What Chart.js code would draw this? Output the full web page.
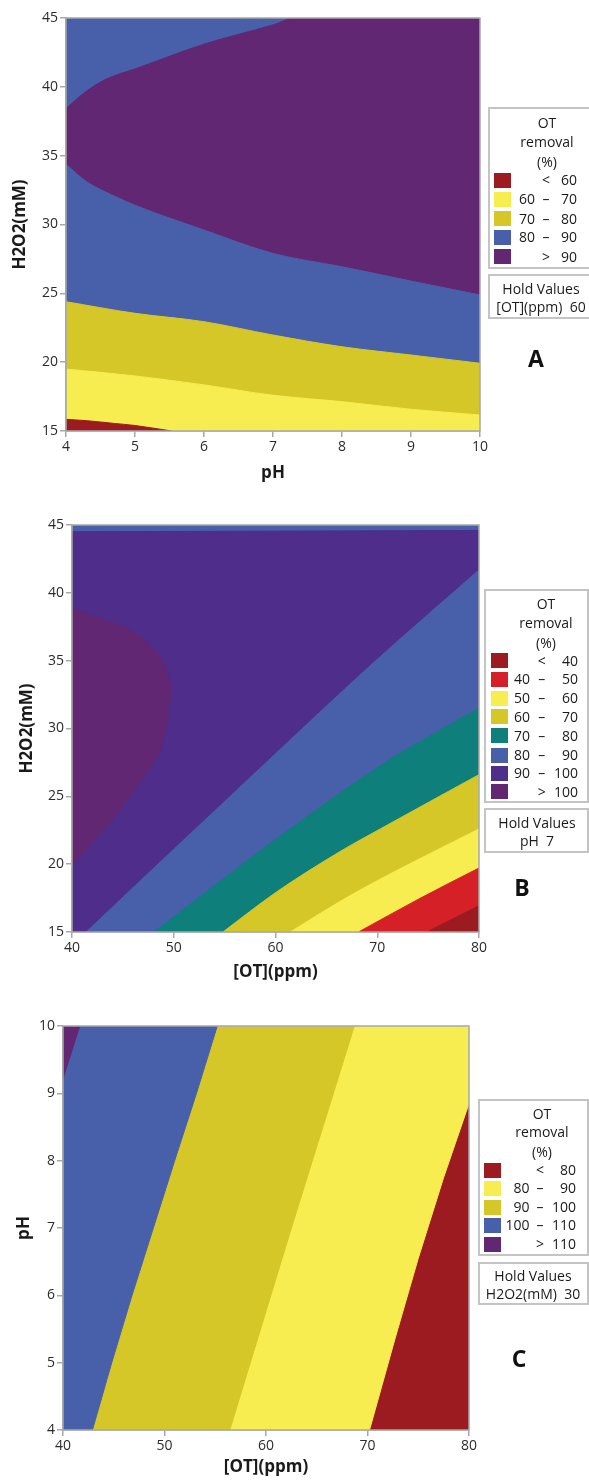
<!DOCTYPE html>
<html lang="en">
<head>
<meta charset="UTF-8">
<title>OT removal contour plots</title>
<script src="https://cdn.jsdelivr.net/npm/chart.js"></script>
<style>
  body { margin: 0; background: #fff; font-family: 'Open Sans', sans-serif; }
  #page { position: relative; width: 589px; height: 1481px; overflow: hidden; }
  #page canvas { position: absolute; left: 0; }
  .box { position: absolute; border: 2px solid #c4c4c4; box-sizing: border-box; }
  .txt { position: absolute; font-size: 14px; line-height: 18px; color: #1a1a1a; white-space: pre; }
  .c { transform: translate(-50%, -50%); }
  .sw { position: absolute; width: 17px; height: 15px; }
  .letter { position: absolute; font-size: 23px; font-weight: bold; color: #111; transform: translate(-50%, -50%); }
</style>
</head>
<body>
<div id="page">
  <canvas id="chartA" width="589" height="490" style="top:0"></canvas>
  <canvas id="chartB" width="589" height="500" style="top:490px"></canvas>
  <canvas id="chartC" width="589" height="491" style="top:990px"></canvas>
</div>
<script>
// ---- colours of the contour classes
const DARKRED = '#9b1b21';
const RED = '#d62028';
const YELLOW = '#f7ec50';
const OLIVE = '#d4c727';
const TEAL = '#0e7f7b';
const BLUE = '#4860aa';
const INDIGO = '#4e2d8b';
const PURPLE = '#612773';

// ---- plot A : pH (x) vs H2O2 mM (y), [OT] held at 60
const a_ticksX = [4, 5, 6, 7, 8, 9, 10];
const a_ticksY = [15, 20, 25, 30, 35, 40, 45];
const a_lim60 = [[4, 15.85], [4.3, 15.75], [4.7, 15.55], [5, 15.4], [5.53, 15]];
const a_lim70 = [[4, 19.5], [5, 19.0], [6, 18.35], [7, 17.6], [8, 17.13], [9, 16.58], [10, 16.16]];
const a_lim80 = [[4, 24.39], [5, 23.55], [6, 22.94], [7, 21.97], [8, 21.12], [9, 20.52], [10, 19.92]];
const a_lim90low = [[4, 34.37], [4.3, 33.1], [4.73, 32.0], [5, 31.4], [6, 29.6], [7, 27.9], [8, 26.93], [9, 25.89], [10, 24.88]];
const a_lim90up = [[4, 38.43], [4.3, 39.7], [4.6, 40.6], [5, 41.3], [6, 43.1], [7, 44.5], [7.32, 45], [10, 45]];
const a_top = [[4, 45], [10, 45]];
const a_legend = [['', '<', '60'], ['60', '–', '70'], ['70', '–', '80'], ['80', '–', '90'], ['', '>', '90']];
const a_legendColors = [DARKRED, YELLOW, OLIVE, BLUE, PURPLE];

// ---- plot B : [OT] ppm (x) vs H2O2 mM (y), pH held at 7
const b_ticksX = [40, 50, 60, 70, 80];
const b_ticksY = [15, 20, 25, 30, 35, 40, 45];
const b_lim40 = [[74.87, 15], [80, 16.93]];
const b_lim50 = [[68.16, 15], [74, 17.4], [80, 19.72]];
const b_lim60 = [[61.45, 15], [66.36, 17.26], [70.3, 18.9], [80, 22.6]];
const b_lim70 = [[54.83, 15], [60, 17.9], [66.36, 20.94], [70.3, 22.6], [80, 26.6]];
const b_lim80 = [[48.08, 15], [55, 19.0], [62.43, 23.15], [71.43, 27.8], [80, 31.5]];
const b_lim90 = [[41.4, 15], [50, 21.1], [55.55, 25], [62.43, 29.85], [70, 35.1], [80, 41.69]];
const b_lim100low = [[40, 19.84], [43.77, 23.03], [46.71, 25.98], [49.0, 28.92], [49.49, 30.4], [49.82, 32.6]];
const b_lim100up = [[40, 38.87], [42.79, 38.13], [46.72, 36.78], [49.0, 34.82], [49.49, 33.83], [49.82, 32.6]];
const b_lim90top = [[40, 44.5], [80, 44.6]];
const b_top = [[40, 45], [80, 45]];
const b_legend = [['', '<', '40'], ['40', '–', '50'], ['50', '–', '60'], ['60', '–', '70'], ['70', '–', '80'], ['80', '–', '90'], ['90', '–', '100'], ['', '>', '100']];
const b_legendColors = [DARKRED, RED, YELLOW, OLIVE, TEAL, BLUE, INDIGO, PURPLE];

// ---- plot C : [OT] ppm (x) vs pH (y), H2O2 held at 30
const c_ticksX = [40, 50, 60, 70, 80];
const c_ticksY = [4, 5, 6, 7, 8, 9, 10];
const c_lim80 = [[40, 4], [70.2, 4], [72.7, 5.35], [75, 6.55], [77.5, 7.75], [80, 8.85]];
const c_lim90 = [[40, 4], [56.43, 4], [62.5, 7], [68.7, 10]];
const c_lim100 = [[40, 4], [42.9, 4], [44.8, 5], [46.8, 6], [48.9, 7], [51.0, 8], [53.15, 9], [55.2, 10]];
const c_lim110 = [[40, 9.22], [41.65, 10]];
const c_top = [[40, 10], [80, 10]];
const c_legend = [['', '<', '80'], ['80', '–', '90'], ['90', '–', '100'], ['100', '–', '110'], ['', '>', '110']];
const c_legendColors = [DARKRED, YELLOW, OLIVE, BLUE, PURPLE];

Chart.defaults.font.family = "'Open Sans', sans-serif";
Chart.defaults.color = '#2b2b2b';

// grey frame round the plot area
const frame = {
  id: 'frame',
  afterDatasetsDraw(chart) {
    const a = chart.chartArea, ctx = chart.ctx;
    ctx.save();
    ctx.strokeStyle = '#a8a8a8';
    ctx.lineWidth = 1.5;
    ctx.strokeRect(a.left, a.top, a.right - a.left, a.bottom - a.top);
    ctx.restore();
  }
};

function axis(ticks, title, fit, isX, pad) {
  return {
    type: 'linear',
    min: ticks[0],
    max: ticks[ticks.length - 1],
    afterBuildTicks: s => { s.ticks = ticks.map(v => ({ value: v })); },
    afterFit: s => { if (isX) s.height = fit; else s.width = fit; },
    grid: { drawOnChartArea: false, tickLength: 6, color: '#a8a8a8', lineWidth: 1.5 },
    border: { color: '#a8a8a8', width: 1.5 },
    ticks: { font: { size: 14 }, padding: 2, maxRotation: 0, autoSkip: false },
    title: {
      display: true, text: title, font: { size: 17, weight: 'bold' }, color: '#1a1a1a',
      padding: isX ? { top: 0, bottom: pad } : { top: pad, bottom: 0 }
    }
  };
}

// layers are listed top first: index 0 is painted last
function contour(id, layers, xs, ys, lay, smooth) {
  return new Chart(document.getElementById(id), {
    type: 'line',
    data: {
      datasets: layers.map(l => ({
        data: l.pts.map(p => ({ x: p[0], y: p[1] })),
        backgroundColor: l.color,
        borderColor: l.color,
        borderWidth: 1,
        pointRadius: 0,
        cubicInterpolationMode: smooth ? 'monotone' : 'default',
        tension: 0,
        fill: l.fill
      }))
    },
    options: {
      responsive: false,
      animation: false,
      events: [],
      layout: { padding: { top: lay.top, right: lay.right, left: 0, bottom: 0 } },
      plugins: { legend: { display: false }, tooltip: { enabled: false } },
      scales: {
        x: axis(xs.ticks, xs.title, lay.xh, true, xs.pad),
        y: axis(ys.ticks, ys.title, lay.yw, false, ys.pad)
      }
    },
    plugins: [frame]
  });
}

contour('chartA', [
  { pts: a_lim60, color: DARKRED, fill: 'start' },
  { pts: a_lim70, color: YELLOW, fill: 'start' },
  { pts: a_lim80, color: OLIVE, fill: 'start' },
  { pts: a_lim90low, color: BLUE, fill: 'start' },
  { pts: a_lim90up, color: PURPLE, fill: 'start' },
  { pts: a_top, color: BLUE, fill: 'start' }
], { ticks: a_ticksX, title: 'pH', pad: 7 }, { ticks: a_ticksY, title: 'H2O2(mM)', pad: 10 },
  { top: 18, right: 109, xh: 59, yw: 66 }, true);

contour('chartB', [
  { pts: b_lim40, color: DARKRED, fill: 'start' },
  { pts: b_lim50, color: RED, fill: 'start' },
  { pts: b_lim60, color: YELLOW, fill: 'start' },
  { pts: b_lim70, color: OLIVE, fill: 'start' },
  { pts: b_lim80, color: TEAL, fill: 'start' },
  { pts: b_lim90, color: BLUE, fill: 'start' },
  { pts: b_lim100low, color: INDIGO, fill: 'start' },
  { pts: b_lim100up, color: PURPLE, fill: 'start' },
  { pts: b_lim90top, color: INDIGO, fill: 'start' },
  { pts: b_top, color: BLUE, fill: 'start' }
], { ticks: b_ticksX, title: '[OT](ppm)', pad: 8 }, { ticks: b_ticksY, title: 'H2O2(mM)', pad: 17 },
  { top: 35, right: 110, xh: 58, yw: 72 }, true);

contour('chartC', [
  { pts: c_lim110, color: PURPLE, fill: 'end' },
  { pts: c_lim100, color: BLUE, fill: 'end' },
  { pts: c_lim90, color: OLIVE, fill: 'end' },
  { pts: c_lim80, color: YELLOW, fill: 'end' },
  { pts: c_top, color: DARKRED, fill: 'start' }
], { ticks: c_ticksX, title: '[OT](ppm)', pad: 4 }, { ticks: c_ticksY, title: 'pH', pad: 14 },
  { top: 36, right: 120, xh: 51, yw: 63 }, false);

// ---- legend boxes, hold values and panel letters (html)
const page = document.getElementById('page');
function el(cls, css, text) {
  const d = document.createElement('div');
  d.className = cls;
  Object.assign(d.style, css);
  if (text !== undefined) d.textContent = text;
  page.appendChild(d);
  return d;
}
function legend(g, rows, colors, hold) {
  el('box', { left: g.l + 'px', top: g.t + 'px', width: g.w + 'px', height: g.h + 'px' });
  ['OT', 'removal', '(%)'].forEach((s, i) => el('txt c', { left: g.tx + 'px', top: g.ty[i] + 'px' }, s));
  rows.forEach((r, i) => {
    const y = g.rows[i];
    el('sw', { left: g.sx + 'px', top: (y - 7.5) + 'px', background: colors[i] });
    el('txt', { right: (589 - g.c1) + 'px', top: (y - 9) + 'px' }, r[0]);
    el('txt c', { left: g.c2 + 'px', top: y + 'px' }, r[1]);
    el('txt', { right: (589 - g.c3) + 'px', top: (y - 9) + 'px' }, r[2]);
  });
  el('box', { left: g.l + 'px', top: hold.t + 'px', width: g.w + 'px', height: hold.h + 'px' });
  el('txt c', { left: hold.cx + 'px', top: hold.y1 + 'px' }, 'Hold Values');
  el('txt c', { left: hold.cx + 'px', top: hold.y2 + 'px' }, hold.text);
  el('letter', { left: hold.lx + 'px', top: hold.ly + 'px' }, hold.letter);
}

legend({ l: 488, t: 107, w: 103, h: 162, tx: 547, ty: [123, 141.7, 161.7],
  rows: [180.3, 199, 218.7, 237, 256.7], sx: 494, c1: 535, c2: 546, c3: 577 },
  a_legend, a_legendColors,
  { t: 274, h: 45, cx: 541, y1: 288.5, y2: 306.7, text: '[OT](ppm)  60', lx: 536, ly: 358, letter: 'A' });

legend({ l: 484, t: 589, w: 105, h: 214, tx: 546, ty: [604.3, 622.7, 642.7],
  rows: [660.7, 679.3, 698.3, 716.7, 735.7, 755, 773.3, 791.7], sx: 491, c1: 530, c2: 541.7, c3: 578 },
  b_legend, b_legendColors,
  { t: 808, h: 45, cx: 537, y1: 822.7, y2: 840.7, text: 'pH  7', lx: 522, ly: 887, letter: 'B' });

legend({ l: 478, t: 1099, w: 111, h: 157, tx: 542, ty: [1114, 1132.3, 1152],
  rows: [1170, 1188, 1207, 1225, 1244], sx: 484, c1: 529.5, c2: 540, c3: 576 },
  c_legend, c_legendColors,
  { t: 1262, h: 43, cx: 533, y1: 1276, y2: 1294, text: 'H2O2(mM)  30', lx: 519, ly: 1358, letter: 'C' });
</script>
</body>
</html>
